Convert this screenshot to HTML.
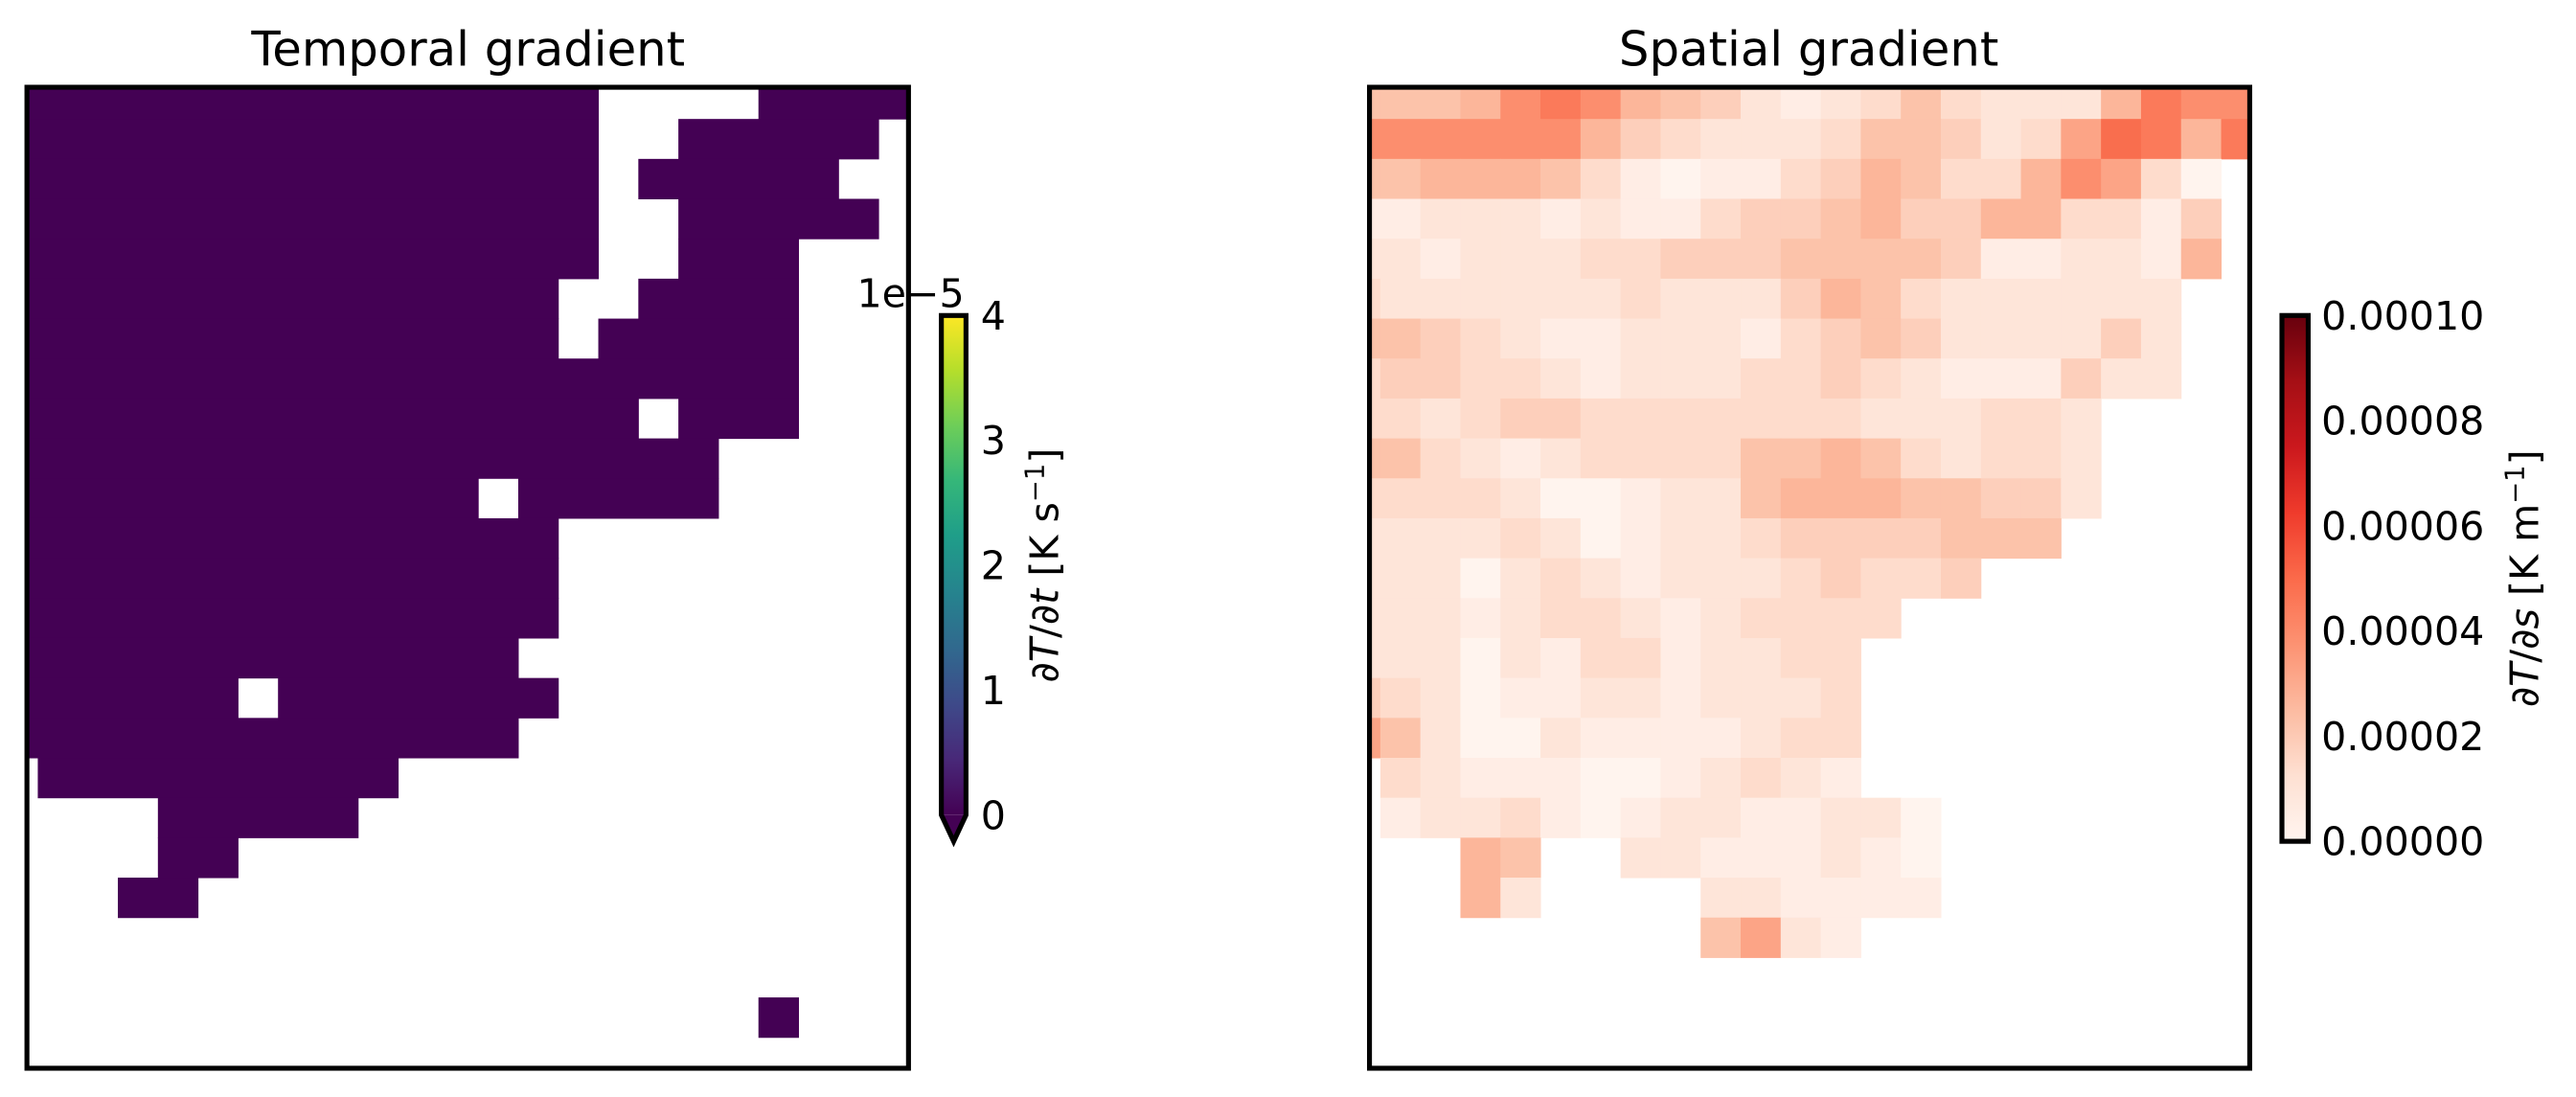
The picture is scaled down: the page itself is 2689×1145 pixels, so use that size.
<!DOCTYPE html>
<html><head><meta charset="utf-8"><style>
html,body{margin:0;padding:0;background:#fff;}
svg{display:block;}
text{font-family:"DejaVu Sans","Liberation Sans",sans-serif;fill:#000;}
</style></head><body>
<svg id="s" width="2689" height="1145" viewBox="0 0 1568 667.6" preserveAspectRatio="none" xmlns="http://www.w3.org/2000/svg">
<defs>
<linearGradient id="vir" x1="0" y1="1" x2="0" y2="0">
<stop offset="0" stop-color="#440154"/><stop offset="0.11" stop-color="#482878"/><stop offset="0.22" stop-color="#3e4989"/><stop offset="0.33" stop-color="#31688e"/><stop offset="0.44" stop-color="#26828e"/><stop offset="0.56" stop-color="#1f9e89"/><stop offset="0.67" stop-color="#35b779"/><stop offset="0.78" stop-color="#6ece58"/><stop offset="0.89" stop-color="#b5de2b"/><stop offset="1" stop-color="#fde725"/>
</linearGradient>
<linearGradient id="reds" x1="0" y1="1" x2="0" y2="0">
<stop offset="0" stop-color="#fff5f0"/><stop offset="0.125" stop-color="#fee0d2"/><stop offset="0.25" stop-color="#fcbba1"/><stop offset="0.375" stop-color="#fc9272"/><stop offset="0.5" stop-color="#fb6a4a"/><stop offset="0.625" stop-color="#ef3b2c"/><stop offset="0.75" stop-color="#cb181d"/><stop offset="0.875" stop-color="#a50f15"/><stop offset="1" stop-color="#67000d"/>
</linearGradient>
</defs>
<g id="L"></g>
<g id="R"></g>
<rect x="16.4" y="53.1" width="536.6" height="597" fill="none" stroke="#000" stroke-width="3"/>
<rect x="833.6" y="53.1" width="535.8" height="597" fill="none" stroke="#000" stroke-width="3"/>
<text x="285" y="40" font-size="29" text-anchor="middle">Temporal gradient</text>
<text x="1101" y="40" font-size="29" text-anchor="middle">Spatial gradient</text>

<!-- left colorbar -->
<rect x="573" y="192" width="15" height="304" fill="url(#vir)"/>
<path d="M573,496 L588,496 L580.5,512 Z" fill="#440154"/>
<path d="M573,192 L588,192 L588,496 L580.5,512 L573,496 Z" fill="none" stroke="#000" stroke-width="3"/>
<g font-size="24">
<text x="597" y="200.5">4</text>
<text x="597" y="276.5">3</text>
<text x="597" y="352.5">2</text>
<text x="597" y="428.5">1</text>
<text x="597" y="504.5">0</text>
<text x="587" y="187" text-anchor="end">1e−5</text>
</g>
<text transform="translate(644,344) rotate(-90)" font-size="24" text-anchor="middle"><tspan font-style="italic">∂T</tspan>/<tspan font-style="italic">∂t</tspan> [K s<tspan baseline-shift="super" font-size="16">−1</tspan>]</text>

<!-- right colorbar -->
<rect x="1389" y="192" width="16" height="320" fill="url(#reds)" stroke="#000" stroke-width="3"/>
<g font-size="24">
<text x="1413" y="200.5">0.00010</text>
<text x="1413" y="264.5">0.00008</text>
<text x="1413" y="328.5">0.00006</text>
<text x="1413" y="392.5">0.00004</text>
<text x="1413" y="456.5">0.00002</text>
<text x="1413" y="520.5">0.00000</text>
</g>
<text transform="translate(1545,352) rotate(-90)" font-size="24" text-anchor="middle"><tspan font-style="italic">∂T</tspan>/<tspan font-style="italic">∂s</tspan> [K m<tspan baseline-shift="super" font-size="16">−1</tspan>]</text>
</svg>
<script>
(function(){
var NS="http://www.w3.org/2000/svg";
var W=24.37,H=24.3,P=6.6,Y0=53.1,Y1=650.1,R1=72.4;
function colX(x0,k){return k===0?x0:x0+P+(k-1)*W;}
function colX2(x0,w,k){return k===22?x0+w:x0+P+k*W;}
function rowY(j){return j===0?Y0:R1+(j-1)*H;}
function rowY2(j){return Math.min(Y1,R1+j*H);}
function rect(g,x1,y1,x2,y2,c){var r=document.createElementNS(NS,"rect");r.setAttribute("x",x1.toFixed(2));r.setAttribute("y",y1.toFixed(2));r.setAttribute("width",(x2-x1+0.3).toFixed(2));r.setAttribute("height",(y2-y1+0.3).toFixed(2));r.setAttribute("fill",c);g.appendChild(r);}
var L=document.getElementById("L");
var mask={0:[[0,14],[19,22]],1:[[0,14],[17,21]],2:[[0,14],[16,20]],3:[[0,14],[17,21]],4:[[0,14],[17,19]],5:[[0,13],[16,19]],6:[[0,13],[15,19]],7:[[0,19]],8:[[0,15],[17,19]],9:[[0,17]],10:[[0,11],[13,17]],11:[[0,13]],12:[[0,13]],13:[[0,13]],14:[[0,12]],15:[[0,5],[7,13]],16:[[0,12]],17:[[1,9]],18:[[4,8]],19:[[4,5]],20:[[3,4]],23:[[19,19]]};
var x0=16.4,w=536.6;
for(var j in mask){j=+j;mask[j].forEach(function(r){rect(L,colX(x0,r[0]),rowY(j),colX2(x0,w,r[1]),rowY2(j),"#440154");});}
var cmap={a:"#fff4ee",b:"#ffede5",c:"#fee5d9",d:"#fedccc",e:"#fdcfbb",f:"#fcc3aa",g:"#fcb69a",h:"#fca486",i:"#fc8e6e",j:"#fb7a5a",k:"#f96e4e"};
var rows=["fffgijigfecbcdfdcccgjii","iiiiiigedcccdffecdhkjgj","ffgggfdbabbdegfddgihda.","bbcccbcbbdeefgeeggddbe.","ccbcccddeeeffffebbccbg.","dccccccdcccegfdcccccc..","ffedcbbcccbdefeccccec..","deeddcbcccddedcbbbecc..","ddcdeedddddddcccddc....","ffdcbcddddffgfdcddc....","ddddcaabccfgggffeec....","ccccdcabccdeeeefff.....","cccacdcbcccdedde.......","cccbcddcbcdddd.........","cccacbddbccdd..........","edcabbccbcccd..........","hfcaacbbbbcdd..........",".dcbbbaabcdcb..........",".bccdbabccbbcca........","...gf..ccbbbcba........","...gc....ccbbbb........",".........fhcb.........."];
var R=document.getElementById("R");var rx=833.6,rw=535.8;
rows.forEach(function(s,j){for(var k=0;k<s.length;k++){var ch=s[k];if(ch==='.')continue;rect(R,colX(rx,k),rowY(j),colX2(rx,rw,k),rowY2(j),cmap[ch]);}});
})();
</script>
</body></html>
